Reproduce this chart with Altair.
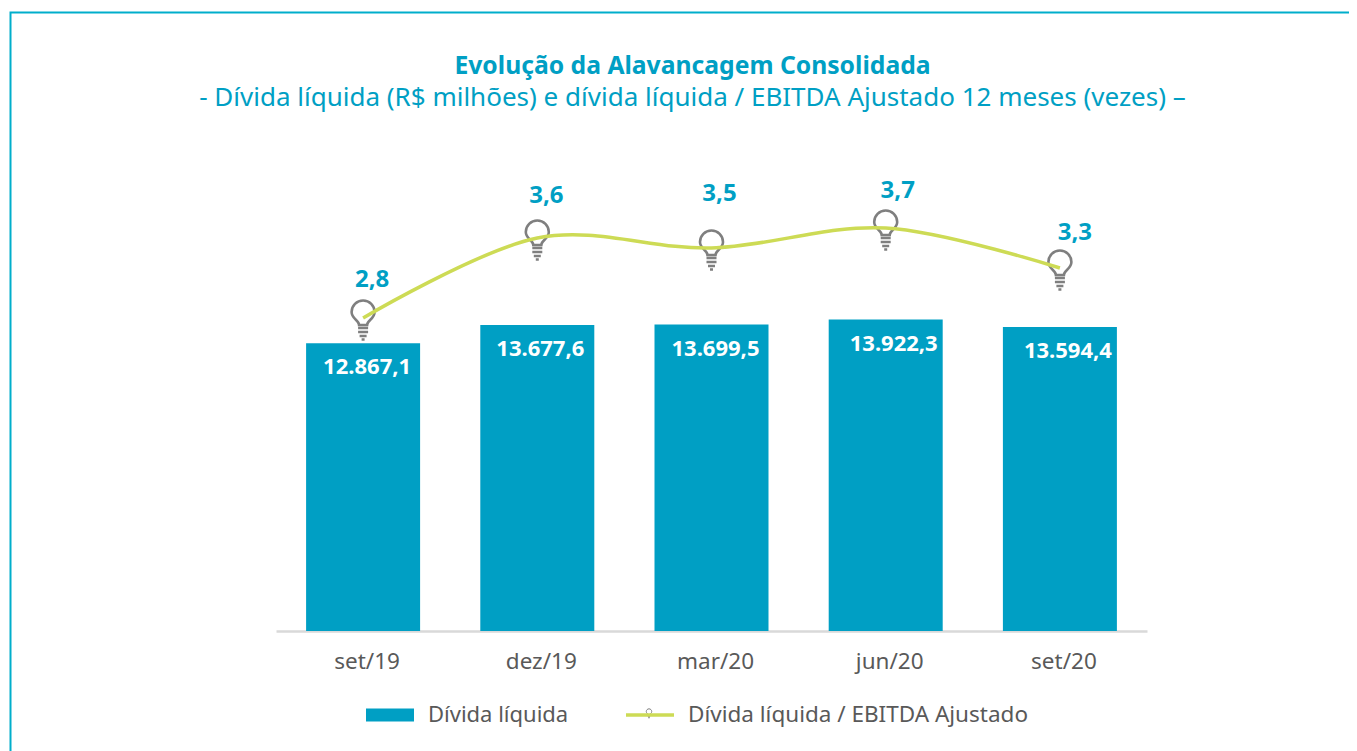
import altair as alt
import pandas as pd

categories = ["set/19", "dez/19", "mar/20", "jun/20", "set/20"]
divida = [12867.1, 13677.6, 13699.5, 13922.3, 13594.4]
divida_txt = ["12.867,1", "13.677,6", "13.699,5", "13.922,3", "13.594,4"]
alav = [2.8, 3.6, 3.5, 3.7, 3.3]
alav_txt = ["2,8", "3,6", "3,5", "3,7", "3,3"]
series_bar = "Dívida líquida"
series_line = "Dívida líquida / EBITDA Ajustado"
title_main = "Evolução da Alavancagem Consolidada"
title_sub = "- Dívida líquida (R$ milhões) e dívida líquida / EBITDA Ajustado 12 meses (vezes) –"

FONT = "Noto Sans"
BLUE = "#009fc4"
FRAME = "#00aecb"
GREEN = "#cddb55"
GRAY = "#595959"
BULB = "#7f7f7f"

def unit(path_parts, half=24.0):
    out = []
    for p in path_parts:
        if isinstance(p, str):
            out.append(p)
        else:
            out.append(f"{p / half:.4f}")
    return " ".join(out)

BULB_PATH = unit([
    "M", -4, 7, "C", -4, 2, -11.5, 1, -11.5, -6,
    "A", 11.5, 11.5, "0 1 1", 11.5, -6,
    "C", 11.5, 1, 4, 2, 4, 7, "Z",
    "M", -5, 10, "L", 5, 10,
    "M", -5, 14, "L", 5, 14,
    "M", -3.5, 18, "L", 3.5, 18,
    "M", -1.5, 21.5, "L", 1.5, 21.5,
])

df = pd.DataFrame({
    "cat": categories, "divida": divida, "dt": divida_txt,
    "alav": alav, "at": alav_txt,
    "s_bar": series_bar, "s_line": series_line,
})

x = alt.X("cat:N", sort=categories, title=None,
          scale=alt.Scale(domain=categories, paddingInner=0.345, paddingOuter=0.1725),
          axis=alt.Axis(labelAngle=0, ticks=False, domainColor="#d9d9d9", domainWidth=2.5,
                        labelFont=FONT, labelFontSize=22.5, labelColor=GRAY, labelPadding=19,
                        labelOffset=4, grid=False))
y_bar = alt.Y("divida:Q", title=None, axis=None, scale=alt.Scale(domain=[0, 22396], nice=False, zero=False))
y_line = alt.Y("alav:Q", title=None, axis=None, scale=alt.Scale(domain=[-0.33, 4.68], nice=False, zero=False))

bars = alt.Chart(df).mark_bar(size=114).encode(
    x=x, y=y_bar,
    color=alt.Color("s_bar:N", scale=alt.Scale(domain=[series_bar], range=[BLUE]),
                    legend=alt.Legend(orient="none", legendX=90, legendY=561, title=None, padding=0,
                                      symbolType="M-1,-0.27 L1,-0.27 L1,0.27 L-1,0.27 Z", symbolSize=2304,
                                      symbolStrokeWidth=0, labelFont=FONT, labelFontSize=22,
                                      labelColor=GRAY, labelOffset=14, labelLimit=600)),
)
bulbs = alt.Chart(df).mark_point(shape=BULB_PATH, size=2304, filled=False, stroke=BULB,
                                 strokeWidth=2.6, opacity=1).encode(x=x, y=y_line)
line = alt.Chart(df).mark_line(interpolate="cardinal", tension=0, strokeWidth=3.5).encode(
    x=x, y=y_line,
    stroke=alt.Stroke("s_line:N", scale=alt.Scale(domain=[series_line], range=[GREEN]),
                      legend=alt.Legend(orient="none", legendX=348, legendY=559, title=None, padding=0,
                                        symbolType="M-1,0 L1,0", symbolSize=2304, symbolStrokeWidth=3.5,
                                        labelFont=FONT, labelFontSize=22.5, labelColor=GRAY, labelOffset=12,
                                        labelLimit=600)),
)

layers = [bars, bulbs, line]

bar_dx = [4, 3, 4, 8, 8]
line_dx = [9, 9, 8, 12, 15]
line_dy = [-38, -42, -54, -37, -35]
for i, c in enumerate(categories):
    sub = df[df["cat"] == c]
    layers.append(alt.Chart(sub).mark_text(font=FONT, fontSize=22, fontWeight="bold", color="white",
                                           dx=bar_dx[i], dy=24).encode(x=x, y=y_bar, text="dt:N"))
    layers.append(alt.Chart(sub).mark_text(font=FONT, fontSize=24, fontWeight="bold", color=BLUE,
                                           dx=line_dx[i], dy=line_dy[i]).encode(x=x, y=y_line, text="at:N"))

one = pd.DataFrame({"k": [0]})
frame = alt.Chart(one).mark_rect(fill=None, stroke=FRAME, strokeWidth=2).encode(
    x=alt.value(-265.5), x2=alt.value(1200), y=alt.value(-117.5), y2=alt.value(700))
legend_bulb = alt.Chart(one).mark_point(shape=BULB_PATH, size=130, filled=False, stroke=BULB,
                                        strokeWidth=1, opacity=1).encode(x=alt.value(373), y=alt.value(583))

chart = alt.layer(frame, *layers, legend_bulb).resolve_scale(y="independent", color="independent", stroke="independent").properties(
    width=871, height=501,
    padding={"left": 268, "top": 122, "right": 202, "bottom": 120},
    autosize=alt.AutoSizeParams(type="none"),
    title=alt.TitleParams(text=title_main, subtitle=title_sub, anchor="middle", frame="group", dx=-19,
                          offset=-99, font=FONT, fontSize=24.7, fontWeight="bold", color=BLUE,
                          subtitleFont=FONT, subtitleFontSize=26, subtitleColor=BLUE,
                          subtitlePadding=6),
).configure_view(stroke=None)

chart.save("out.html", embed_options={"renderer": "svg", "actions": False})
